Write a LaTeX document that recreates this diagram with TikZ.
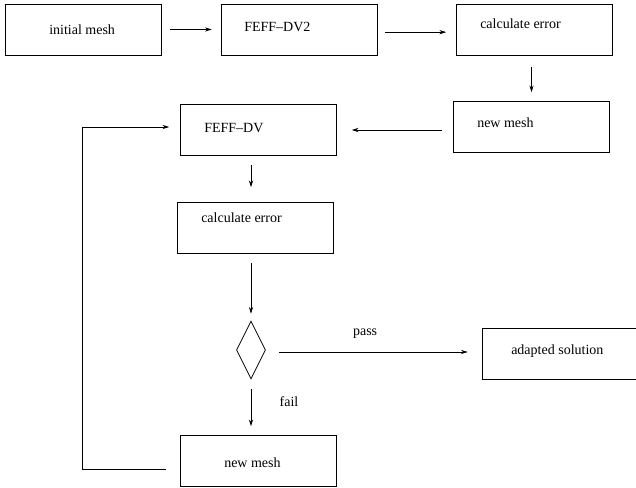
\documentclass[tikz,border=0pt]{standalone}
\usepackage{fontspec}
\setmainfont{Liberation Serif}
\usetikzlibrary{arrows.meta,positioning,shapes.geometric}
\tikzset{
  box/.style={draw,line width=0.6pt,minimum width=117pt,minimum height=38.25pt,inner sep=0pt},
  decision/.style={draw,diamond,aspect=0.5,line width=0.6pt,minimum width=21.75pt,
              minimum height=43.5pt,inner sep=0pt},
  txt/.style={anchor=west,inner sep=0pt,font=\fontsize{10.5}{12}\selectfont},
  flow/.style={-{Stealth[length=5pt,width=3.2pt]},line width=0.5pt},
  note/.style={inner sep=0pt,font=\fontsize{10.5}{12}\selectfont}
}

\begin{document}
\begin{tikzpicture}[x=0.75pt,y=-0.75pt]
  \useasboundingbox (0,0) rectangle (636,488);
  % boxes
  \node[box] (init) at (83,29.5) {};
  \node[box] (dvtwo) at (299,29.5) {};
  \node[box] (errone) at (534.5,29.5) {};
  \node[box] (meshone) at (531.5,127) {};
  \node[box] (dv) at (258.5,130) {};
  \node[box] (errtwo) at (255,228) {};
  \node[decision] (test) at (251,350) {};
  \node[box] (sol) at (560,354) {};
  \node[box] (meshtwo) at (258.5,461) {};

  % texts
  \node[txt] (initT) at (49,30) {initial mesh};
  \node[txt] (dvtwoT) at (244,27) {FEFF--DV2};
  \node[txt] (erroneT) at (480,23.5) {calculate error};
  \node[txt] (meshoneT) at (477,123) {new mesh};
  \node[txt] (dvT) at (204,128) {FEFF--DV};
  \node[txt] (errtwoT) at (201,218) {calculate error};
  \node[txt] (solT) at (511,351) {adapted solution};
  \node[txt] (meshtwoT) at (224,463) {new mesh};

  % connectors
  \draw[flow,shorten <=6.75pt,shorten >=6.75pt] (init) -- (dvtwo);
  \draw[flow,shorten <=6pt,shorten >=7.5pt] ([yshift=-2pt]dvtwo.east) -- ([yshift=-2pt]dvtwo.east -| errone.west);
  \draw[flow,shorten <=9pt,shorten >=6.75pt] (errone.south -| meshone) -- (meshone.north);
  \draw[flow,shorten <=8.25pt,shorten >=11.25pt] (meshone.west |- dv) -- (dv.east);
  \draw[flow,shorten <=6.75pt,shorten >=11.25pt] (dv.south -| test) -- (errtwo.north -| test);
  \draw[flow,shorten <=6.75pt,shorten >=5.25pt] (errtwo.south -| test) -- (test.north);
  \draw[flow,shorten <=9.75pt,shorten >=10.5pt] ([yshift=-1.5pt]test.east) --
    node[note,pos=0.46,yshift=14pt] (passL) {pass} ([yshift=-1.5pt]test.east -| sol.west);
  \draw[flow,shorten <=7.5pt,shorten >=6.75pt] (test.south) --
    node[note,pos=0.4,xshift=28.5pt] (failL) {fail} (meshtwo.north -| test);
  \draw[flow,shorten <=10.5pt,shorten >=8.25pt] ([yshift=-6pt]meshtwo.west) -- ++(-98,0)
    |- ([yshift=2.25pt]dv.west);
\end{tikzpicture}
\end{document}
